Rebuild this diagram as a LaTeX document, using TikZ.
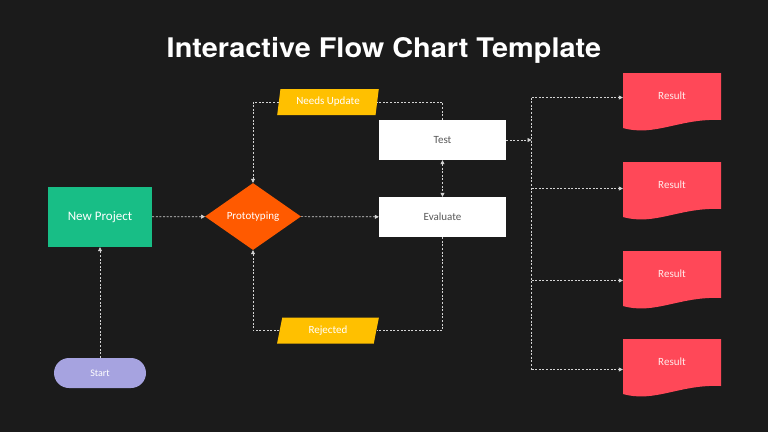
\documentclass[tikz,border=0pt]{standalone}
\usepackage{fontspec}
\setmainfont{Carlito}
\newfontfamily\titlefont[FakeStretch=1.07]{TeX Gyre Heros}
\usetikzlibrary{shapes.geometric,arrows.meta}
\definecolor{bgdark}{HTML}{1B1B1B}
\definecolor{projgreen}{HTML}{18BE86}
\definecolor{startlav}{HTML}{A6A3E0}
\definecolor{protoorange}{HTML}{FF5A00}
\definecolor{tagyellow}{HTML}{FFC000}
\definecolor{resred}{HTML}{FF4858}
\definecolor{linegrey}{HTML}{D4D4D4}
\definecolor{boxtext}{HTML}{595959}
\begin{document}
\begin{tikzpicture}[x=1pt,y=-1pt,
    flow/.style={draw=linegrey, line width=0.7pt, dash pattern=on 2pt off 1.6pt},
    tip/.style={-{Triangle[width=4pt,length=4pt]}},
    whitebox/.style={fill=white, minimum width=127, minimum height=40, text=boxtext, font=\fontsize{11}{13}\selectfont},
    tag/.style={trapezium, trapezium left angle=77, trapezium right angle=103, trapezium stretches=true,
        fill=tagyellow, minimum width=102, minimum height=26, inner sep=0, text=white, font=\fontsize{11}{13}\selectfont},
    result/.style={minimum width=98, minimum height=47, inner sep=0, text=red!8!white, font=\fontsize{11}{13}\selectfont}]
    \useasboundingbox (0,0) rectangle (768,432);
    \fill[bgdark] (0,0) rectangle (768,432); % fondo

    \node[anchor=base, inner sep=0, text=white, font=\titlefont\bfseries\fontsize{27}{32}\selectfont] (title) at (384,57.3) {Interactive Flow Chart Template};

    % nodi principali
    \node[fill=startlav, rounded corners=15pt, minimum width=92, minimum height=30, text=white,
        font=\fontsize{10}{12}\selectfont] (start) at (100,373) {Start};
    \node[fill=projgreen, minimum width=104, minimum height=60, text=white,
        font=\fontsize{13}{15}\selectfont] (proj) at (100,217) {New Project};
    \node[diamond, aspect=1.43, fill=protoorange, minimum width=96, minimum height=67, inner sep=0, text=white,
        font=\fontsize{11}{13}\selectfont] (proto) at (253,216.5) {Prototyping};
    \node[whitebox] (test) at (442.5,140) {Test};
    \node[whitebox] (eval) at (442.5,217) {Evaluate};
    \node[tag] (upd) at (328,102) {Needs Update};
    \node[tag] (rej) at (328,330.5) {Rejected};

    % documenti risultato
    \foreach \i/\y in {1/73,2/162,3/251,4/339}{
        \fill[resred] (623,\y) -- (721,\y) -- (721,\y+47)
            .. controls (680,\y+45) and (655,\y+64) .. (623,\y+55) -- cycle;
        \node[result] (res\i) at (672,\y+23) {Result};
    }

    % collegamenti
    \draw[flow,tip] (start) -- (proj);
    \draw[flow,tip] (proj) -- (proto);
    \draw[flow,tip] (proto) -- (eval);
    \draw[flow,{Triangle[width=4pt,length=4pt]}-{Triangle[width=4pt,length=4pt]}] (test) -- (eval);
    \draw[flow] (test.north) |- (upd.east);
    \draw[flow,tip] (upd.west) -| (proto.north);
    \draw[flow] (eval.south) |- (rej.east);
    \draw[flow,tip] (rej.west) -| (proto.south);

    % diramazione verso i risultati
    \coordinate (fork) at (531.5,140);
    \coordinate (b1) at (531.5,97.5);
    \coordinate (b2) at (531.5,188.5);
    \coordinate (b3) at (531.5,280.5);
    \coordinate (b4) at (531.5,369.5);
    \draw[flow,tip] (test) -- (fork);
    \draw[flow] (b1) -- (b4);
    \foreach \i in {1,...,4}
        \draw[flow,tip] (b\i) -- (b\i -| res\i.west);
\end{tikzpicture}
\end{document}
